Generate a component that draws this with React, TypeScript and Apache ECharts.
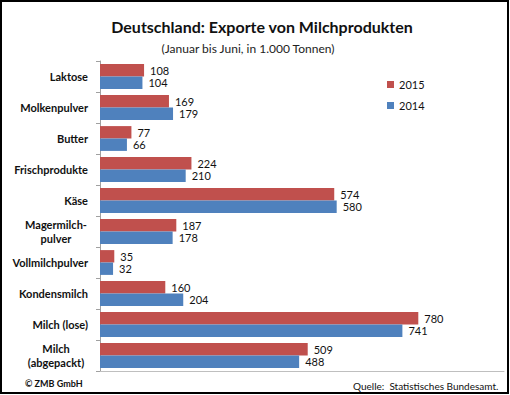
import React, { useEffect, useRef } from "react";
import * as echarts from "echarts";

const categories = [
  "Laktose",
  "Molkenpulver",
  "Butter",
  "Frischprodukte",
  "Käse",
  "Magermilch-\npulver",
  "Vollmilchpulver",
  "Kondensmilch",
  "Milch (lose)",
  "Milch\n(abgepackt)",
];
const values2015 = [108, 169, 77, 224, 574, 187, 35, 160, 780, 509];
const values2014 = [104, 179, 66, 210, 580, 178, 32, 204, 741, 488];
const seriesNames = ["2015", "2014"];

const FONT = "Lato, 'Open Sans', sans-serif";

export default function App() {
  const ref = useRef<HTMLDivElement>(null);
  useEffect(() => {
    if (!ref.current) return;
    const chart = echarts.init(ref.current, undefined, { renderer: "svg" });
    const labelStyle = {
      show: true,
      position: "right" as const,
      distance: 6,
      color: "#111",
      fontSize: 11,
      fontFamily: FONT,
    };
    chart.setOption({
      animation: false,
      backgroundColor: "#fff",
      textStyle: { fontFamily: FONT },
      legend: {
        data: seriesNames,
        orient: "vertical",
        left: 382,
        top: 74,
        itemWidth: 7,
        itemHeight: 7,
        itemGap: 10,
        icon: "rect",
        textStyle: { fontSize: 11, color: "#111", fontFamily: FONT },
      },
      grid: { left: 100, top: 61, width: 404, height: 310 },
      xAxis: {
        type: "value",
        min: 0,
        max: 990,
        axisLabel: { show: false },
        axisTick: { show: false },
        splitLine: { show: false },
        axisLine: { show: true, lineStyle: { color: "#BFBFBF", width: 1 } },
      },
      yAxis: {
        type: "category",
        data: categories,
        inverse: true,
        axisLine: { show: true, lineStyle: { color: "#A0A0A0", width: 1 } },
        axisTick: { show: true, length: 4, lineStyle: { color: "#A0A0A0" } },
        axisLabel: {
          margin: 12,
          color: "#111",
          fontSize: 11,
          fontWeight: "bold",
          fontFamily: FONT,
          lineHeight: 14,
          formatter: (v: string) =>
            v.includes("\n") ? v.split("\n").map((l) => `{c|${l}}`).join("\n") : v,
          rich: {
            c: {
              width: 64,
              align: "center",
              fontSize: 11,
              fontWeight: "bold",
              fontFamily: FONT,
              color: "#111",
              lineHeight: 14,
            },
          },
        },
      },
      series: [
        {
          name: seriesNames[0],
          type: "bar",
          data: values2015,
          itemStyle: { color: "#C0504D" },
          barGap: "0%",
          barCategoryGap: "20%",
          label: labelStyle,
        },
        {
          name: seriesNames[1],
          type: "bar",
          data: values2014,
          itemStyle: { color: "#4F81BD" },
          barGap: "0%",
          barCategoryGap: "20%",
          label: labelStyle,
        },
      ],
      graphic: [
        {
          type: "text",
          x: 262,
          y: 26,
          style: {
            text: "Deutschland: Exporte von Milchprodukten",
            fontSize: 16,
            fontWeight: "bold",
            fill: "#111",
            fontFamily: FONT,
            align: "center",
            verticalAlign: "middle",
          },
        },
        {
          type: "text",
          x: 248,
          y: 48,
          style: {
            text: "(Januar bis Juni, in 1.000 Tonnen)",
            fontSize: 12,
            fill: "#222",
            fontFamily: FONT,
            align: "center",
            verticalAlign: "middle",
          },
        },
        {
          type: "text",
          x: 25,
          y: 383,
          style: {
            text: "© ZMB GmbH",
            fontSize: 9,
            fontWeight: "bold",
            fill: "#111",
            fontFamily: FONT,
            verticalAlign: "middle",
          },
        },
        {
          type: "text",
          x: 353,
          y: 386,
          style: {
            text: "Quelle:  Statistisches Bundesamt.",
            fontSize: 10,
            fill: "#111",
            fontFamily: FONT,
            verticalAlign: "middle",
          },
        },
        {
          type: "rect",
          shape: { x: 1, y: 1, width: 507, height: 392 },
          style: { fill: "none", stroke: "#000", lineWidth: 2 },
          silent: true,
        },
      ],
    });
    return () => chart.dispose();
  }, []);
  return (
    <div
      ref={ref}
      style={{ position: "absolute", left: 0, top: 0, width: 510, height: 395 }}
    />
  );
}
